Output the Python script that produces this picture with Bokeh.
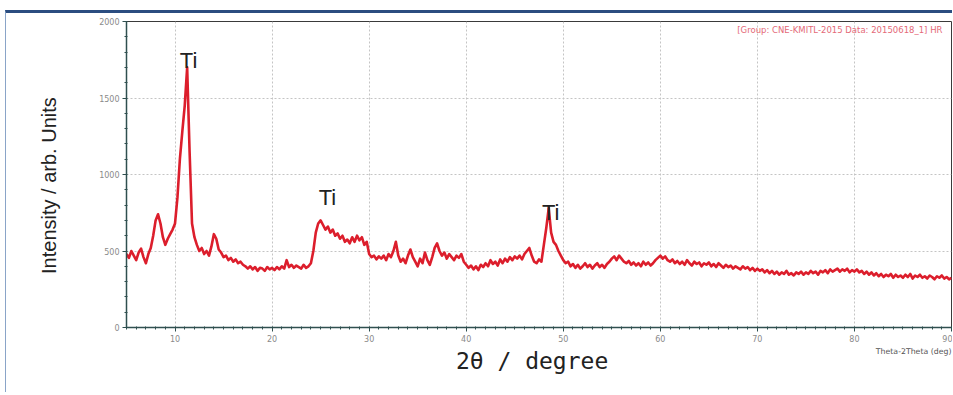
import numpy as np
from bokeh.plotting import figure
from bokeh.models import FixedTicker, Label, ColumnDataSource, LinearAxis, Title
from bokeh.core.properties import value
from bokeh.embed import file_html
from bokeh.resources import INLINE

# ---- data (2theta from 5 to 90 deg, 0.25 deg steps) ----
TWO_THETA_MIN = 5.0
TWO_THETA_MAX = 90.0
intensity = [
    480, 455, 500, 470, 440, 490, 515, 460, 420, 480, 520, 600, 700, 740, 680, 590, 540, 580, 610, 640,      # 5-9.75
    680, 850, 1100, 1280, 1450, 1700, 1150, 680, 590, 540, 500, 520, 480, 500, 470, 530, 610, 580, 510, 490,  # 10-14.75
    460, 470, 440, 455, 430, 445, 420, 430, 410, 400, 385, 400, 380, 395, 370, 390, 385, 370, 395, 380,      # 15-19.75
    390, 375, 395, 380, 400, 385, 440, 395, 410, 390, 405, 395, 385, 410, 390, 400, 420, 500, 620, 680,      # 20-24.75
    700, 670, 640, 660, 620, 640, 600, 615, 580, 600, 560, 575, 550, 590, 560, 600, 570, 590, 540, 560,      # 25-29.75
    480, 460, 470, 445, 465, 450, 470, 440, 480, 460, 500, 560, 470, 430, 450, 420, 470, 510, 460, 430,      # 30-34.75
    400, 450, 420, 490, 440, 410, 460, 520, 550, 500, 470, 490, 450, 480, 460, 440, 470, 455, 480, 430,      # 35-39.75
    410, 390, 405, 380, 400, 375, 410, 395, 420, 400, 440, 415, 430, 405, 445, 420, 450, 430, 460, 440,      # 40-44.75
    465, 450, 470, 445, 480, 500, 520, 470, 430, 420, 445, 430, 540, 650, 780, 620, 560, 540, 500, 470,      # 45-49.75
    440, 420, 430, 400, 415, 390, 410, 385, 400, 420, 395, 410, 385, 405, 420, 395, 410, 390, 415, 430,      # 50-54.75
    450, 465, 440, 470, 450, 430, 420, 435, 410, 425, 405, 420, 400, 430, 410, 425, 405, 420, 440, 455,      # 55-59.75
    470, 450, 465, 440, 430, 445, 420, 435, 415, 430, 410, 440, 420, 405, 430, 415, 425, 400, 420, 410,      # 60-64.75
    425, 400, 415, 395, 420, 405, 390, 410, 395, 405, 385, 400, 390, 380, 400, 385, 395, 375, 390, 370,      # 65-69.75
    385, 370, 380, 360, 375, 355, 370, 350, 365, 345, 360, 350, 370, 345, 355, 340, 360, 350, 365, 345,      # 70-74.75
    360, 350, 370, 355, 365, 345, 370, 360, 375, 355, 380, 365, 375, 385, 365, 380, 370, 385, 360, 375,      # 75-79.75
    365, 380, 360, 370, 350, 365, 345, 360, 340, 355, 335, 350, 330, 345, 335, 350, 325, 345, 330, 340,      # 80-84.75
    325, 345, 330, 350, 320, 340, 330, 345, 325, 335, 320, 340, 330, 315, 335, 325, 340, 320, 330, 315,      # 85-89.75
    325,                                                                                                      # 90
]
two_theta = np.linspace(TWO_THETA_MIN, TWO_THETA_MAX, len(intensity))

x_ticks = [10, 20, 30, 40, 50, 60, 70, 80, 90]
y_ticks = [0, 500, 1000, 1500, 2000]

peak_label_text = ["Ti", "Ti", "Ti"]
peak_label_x = [11.4, 25.7, 48.7]
peak_label_y = [1745, 847, 749]

header_text = "[Group:  CNE-KMITL-2015  Data:  20150618_1] HR"

# ---- figure ----
p = figure(width=947, height=382, x_range=(TWO_THETA_MIN, TWO_THETA_MAX), y_range=(0, 2000),
           output_backend="svg", toolbar_location=None,
           min_border_left=120, min_border_right=2, min_border_top=8, min_border_bottom=68)
p.styles = {"margin-left": "5px", "margin-top": "10px",
            "border-left": "1px solid #8aa4c8", "border-top": "3px solid #2b4d80"}

p.background_fill_color = "white"
p.border_fill_color = "white"
p.outline_line_color = "#3a3a3a"
p.outline_line_width = 1

src = ColumnDataSource(dict(x=two_theta, y=intensity))
p.line("x", "y", source=src, line_color="#dc1e2c", line_width=2.6, line_join="round")

# axes
p.xaxis.ticker = FixedTicker(ticks=x_ticks, minor_ticks=list(range(5, 91)))
p.yaxis.ticker = FixedTicker(ticks=y_ticks, minor_ticks=list(range(0, 2001, 100)))
for ax in (p.xaxis[0], p.yaxis[0]):
    ax.axis_line_color = "#2f4f4f"
    ax.axis_line_width = 1.5
    ax.major_tick_line_color = "#2f4f4f"
    ax.minor_tick_line_color = "#2f4f4f"
    ax.major_tick_out = 4
    ax.major_tick_in = 0
    ax.minor_tick_out = 2
    ax.minor_tick_in = 1
    ax.major_label_text_font = "DejaVu Sans"
    ax.major_label_text_font_size = "8px"
    ax.major_label_text_color = "#8a8a8a"
    ax.major_label_standoff = 3

p.yaxis.axis_label = "Intensity / arb. Units\u00a0\u00a0\u00a0\u00a0"
p.yaxis.axis_label_text_font = "Liberation Sans"
p.yaxis.axis_label_text_font_style = "normal"
p.yaxis.axis_label_text_font_size = "20px"
p.yaxis.axis_label_text_color = "#222222"
p.yaxis.axis_label_standoff = 36

xa = p.xaxis[0]

# small instrument axis name, right-aligned under the tick labels
inst_name = Title(text="Theta-2Theta (deg)", align="right", text_font="DejaVu Sans",
                  text_font_size="7.8px", text_font_style="normal", text_color="#555555",
                  standoff=0, offset=0)

# main x axis title on a second, tick-less axis below
x_title = LinearAxis(ticker=FixedTicker(ticks=[]), axis_line_color=None,
                     major_tick_line_color=None, minor_tick_line_color=None,
                     major_label_text_font_size="0px")
x_title.axis_label = "2θ / degree\u00a0"
x_title.axis_label_text_font = "DejaVu Sans Mono"
x_title.axis_label_text_font_style = "normal"
x_title.axis_label_text_font_size = "23px"
x_title.axis_label_text_color = "#222222"
x_title.axis_label_standoff = -8
p.below = [xa, inst_name, x_title]

# grid
p.xgrid.ticker = FixedTicker(ticks=x_ticks)
p.ygrid.ticker = FixedTicker(ticks=y_ticks)
for g in (p.xgrid[0], p.ygrid[0]):
    g.grid_line_color = "#c4c4c4"
    g.grid_line_dash = "2 2"
    g.grid_line_width = 1

# peak labels
lab_src = ColumnDataSource(dict(x=peak_label_x, y=peak_label_y, t=peak_label_text))
p.text("x", "y", text="t", source=lab_src, text_font=value("Liberation Sans"),
       text_font_size="22px", text_color="#222222", text_align="center",
       text_baseline="alphabetic")

# header annotation
p.add_layout(Label(x=TWO_THETA_MAX - 0.1, y=1945, text=header_text, text_align="right",
                   text_baseline="middle", text_font="DejaVu Sans", text_font_size="8.5px",
                   text_color="#e46a78"))

open("out.html", "w").write(file_html(p, INLINE))
